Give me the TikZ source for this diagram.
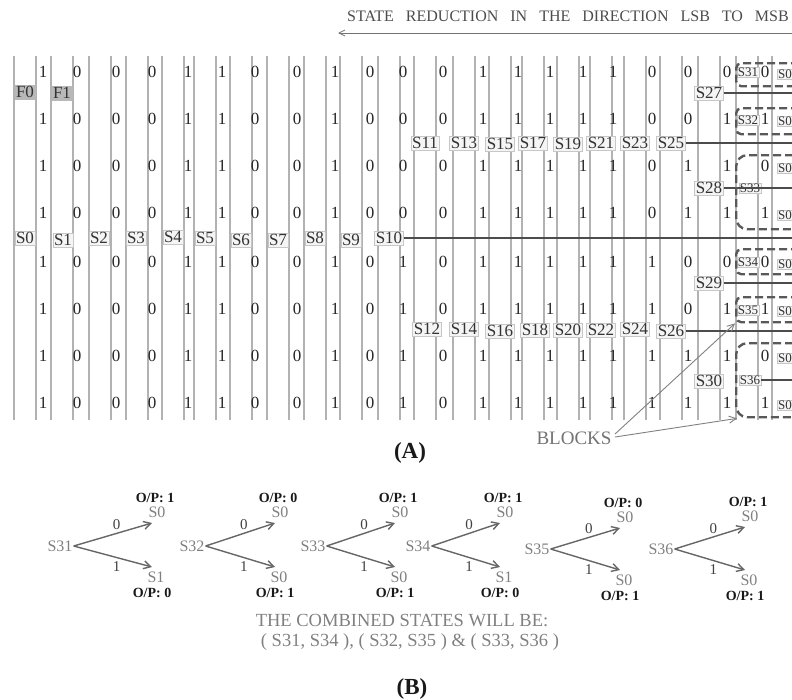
\documentclass[tikz,border=0pt]{standalone}
\usepackage{fontspec}
\setmainfont{Liberation Serif}
\usetikzlibrary{arrows.meta}
\begin{document}
\begin{tikzpicture}[x=1pt,y=-1pt,
  colline/.style={black!30,line width=1.3pt},
  hline/.style={black!70,line width=1.3pt},
  lbl/.style={font=\fontsize{17}{17}\selectfont,fill=black!4,draw=black!22,inner sep=1.1pt,text=black!80},
  lbls/.style={lbl,font=\fontsize{13}{13}\selectfont,inner sep=0.8pt},
  flbl/.style={lbl,fill=black!28,draw=black!28},
  bitn/.style={font=\fontsize{17}{17}\selectfont,inner sep=0pt,text=black!85},
  blk/.style={draw=black!65,dash pattern=on 8pt off 4pt,line width=2.4pt,rounded corners=#1,anchor=north west,inner sep=0pt,minimum width=80pt},
  blk/.default=5pt,
  tarr/.style={-{Straight Barb[length=6pt,width=6pt]},black!55,line width=0.8pt},
  barrow/.style={-{Straight Barb[length=7pt,width=7pt]},black!50,line width=0.9pt},
  bst/.style={font=\fontsize{16}{16}\selectfont,text=black!50,inner sep=1pt},
  bop/.style={font=\bfseries\fontsize{14}{14}\selectfont,text=black!90,inner sep=0pt},
  bel/.style={font=\fontsize{15}{15}\selectfont,text=black!75,inner sep=1pt},
  barr/.style={-{Straight Barb[length=7pt,width=8pt]},line width=1.4pt,black!60},
  btext/.style={font=\fontsize{18.5}{18.5}\selectfont,text=black!50},
  capt/.style={font=\bfseries\fontsize{23}{23}\selectfont,text=black!90}
]
\path[use as bounding box] (0,0) rectangle (792,699);

% ---------- title and direction arrow
\node[font=\fontsize{16}{16}\selectfont,text=black!70] (title) at (568,16)
  {\spaceskip=12pt STATE REDUCTION IN THE DIRECTION LSB TO MSB};
\coordinate (arrR) at (800,33);
\coordinate (arrL) at (338,33);
\draw[tarr] (arrR) -- (arrL);

% ---------- column lines
\foreach \cx in {25,62,100,137,173,205,241,278,315,351,389,425,464,500,533,568,601,635,671,709,747,783}{
  \draw[colline] (\cx-11,56) -- (\cx-11,420);
  \draw[colline] (\cx+11,56) -- (\cx+11,420);
}

% ---------- state labels
\node[flbl] (F0) at (25,92) {F0};
\node[flbl] (F1) at (62,93) {F1};
\foreach \n/\x/\y in {0/25/238,1/63/240,2/99/238,3/136/238,4/173/237,5/205/238,6/241/240,7/278/240,8/315/238,9/351/240,10/389/238,
  11/425/143,13/464/143,15/500/144,17/533/143,19/568/144,21/601/143,23/635/143,25/671/143,
  12/427/329,14/464/329,16/500/331,18/535/330,20/568/330,22/601/330,24/635/329,26/671/331,
  27/709/93,28/709/188,29/709/283,30/709/381}
  \node[lbl] (S\n) at (\x,\y) {S\n};
\foreach \n/\x/\y in {31/748/72,32/748/120,33/750/188,34/748/262,35/748/310,36/750/380}
  \node[lbls] (S\n) at (\x,\y) {S\n};
\foreach \i/\y in {1/74,2/121,3/168,4/215,5/264,6/311,7/358,8/405}
  \node[lbls] (Z\i) at (785,\y) {S0};

% ---------- dark horizontal lines
\coordinate (edge) at (800,0);
\foreach \n in {10,25,26,27,28,29}
  \draw[hline] (S\n.east) -- (S\n.east -| edge);
\draw[hline] (S33.east) -- (S33.east -| edge);
\draw[hline] (S36.east) -- (S36.east -| edge);

% ---------- dashed blocks
\node[blk,minimum height=23pt] (blk1) at (735,62) {};
\node[blk,minimum height=26pt] (blk2) at (735,107) {};
\node[blk=11pt,minimum height=74pt] (blk3) at (735,154) {};
\node[blk,minimum height=25pt] (blk4) at (735,248) {};
\node[blk,minimum height=25pt] (blk5) at (735,296) {};
\node[blk=11pt,minimum height=74pt] (blk6) at (735,342) {};

% ---------- bits
\def\bxlist{43,77,116,152,188,222,255,297,335,370,403,443,483,518,550,583,613,652,688,727,765}
\foreach \r/\y/\bits in {
  1/72/{1,0,0,0,1,1,0,0,1,0,0,0,1,1,1,1,1,0,0,0,0},
  2/119/{1,0,0,0,1,1,0,0,1,0,0,0,1,1,1,1,1,0,0,1,1},
  3/166/{1,0,0,0,1,1,0,0,1,0,0,0,1,1,1,1,1,0,1,1,0},
  4/213/{1,0,0,0,1,1,0,0,1,0,0,0,1,1,1,1,1,0,1,1,1},
  5/262/{1,0,0,0,1,1,0,0,1,0,1,0,1,1,1,1,1,1,0,0,0},
  6/309/{1,0,0,0,1,1,0,0,1,0,1,0,1,1,1,1,1,1,0,1,1},
  7/356/{1,0,0,0,1,1,0,0,1,0,1,0,1,1,1,1,1,1,1,1,0},
  8/403/{1,0,0,0,1,1,0,0,1,0,1,0,1,1,1,1,1,1,1,1,1}}{
  \foreach \v [count=\i from 0] in \bits {
    \pgfmathsetmacro\xx{{\bxlist}[\i]}
    \node[bitn] (b\r-\i) at (\xx,\y) {\v};
  }
}

% ---------- BLOCKS pointer
\node[font=\fontsize{19}{19}\selectfont,text=black!55] (blocks) at (574,438) {BLOCKS};
\draw[barrow] ([yshift=4pt]blocks.east) -- (blk5.south west);
\draw[barrow] ([yshift=1pt]blocks.east) -- ([xshift=2pt]blk6.south west);

\node[capt] (capA) at (410,453) {(A)};

% ---------- part B
\foreach \n/\sx/\sy/\ux/\uy/\lx/\ly/\ll/\ot/\ob in {
  31/60/546/152/523/152/567/S1/1/0,
  32/192/546/275/523/275/567/S0/0/1,
  33/313/546/395/523/395/567/S0/1/1,
  34/418/546/500/523/500/567/S1/1/0,
  35/537/549/620/528/620/570/S0/0/1,
  36/661/549/745/527/745/570/S0/1/1}{
  \node[bst] (g\n) at (\sx,\sy) {S\n};
  \node[bst] (g\n u) at (\ux+5,\uy-11) {S0};
  \node[bst] (g\n l) at (\lx+4,\ly+10) {\ll};
  \node[bop] (g\n ot) at (\ux+3,\uy-25) {O/P: \ot};
  \node[bop] (g\n ob) at (\lx,\ly+26) {O/P: \ob};
  \draw[barr] (g\n.east) -- node[bel,above=2pt,pos=0.55] {0} ([shift={(-5,11)}]g\n u.center);
  \draw[barr] (g\n.east) -- node[bel,below=2pt,pos=0.55] {1} ([shift={(-4,-10)}]g\n l.center);
}

\node[btext] (comb) at (402,621) {THE COMBINED STATES WILL BE:};
\node[btext] (pairs) at (410,642) {( S31, S34 ), ( S32, S35 ) \& ( S33, S36 )};
\node[capt] (capB) at (412,689) {(B)};
\end{tikzpicture}
\end{document}
